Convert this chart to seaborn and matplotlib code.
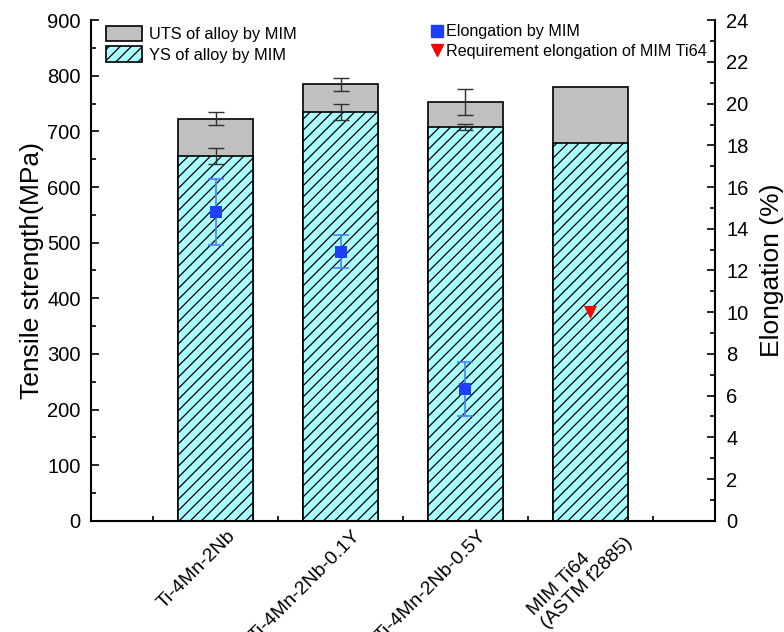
import matplotlib
matplotlib.use("Agg")
import matplotlib.pyplot as plt
import matplotlib.transforms as mtransforms
import numpy as np
import pandas as pd
import seaborn as sns
from matplotlib.patches import Patch
from matplotlib.lines import Line2D
from matplotlib.ticker import MultipleLocator, FixedLocator

# Tensile data of the MIM alloys (MPa)
alloys = ["Ti-4Mn-2Nb", "Ti-4Mn-2Nb-0.1Y", "Ti-4Mn-2Nb-0.5Y", "MIM Ti64\n(ASTM f2885)"]
uts = [723, 785, 753, 780]
uts_err = [12, 12, 24]
ys = [656, 735, 708, 680]
ys_err = [15, 15, 6]

# Elongation (%)
elong = [14.8, 12.9, 6.3]
elong_err = [1.6, 0.8, 1.3]
req_elong = [10]

sns.set_theme(style="ticks")
plt.rcParams["font.family"] = ["Liberation Sans", "DejaVu Sans"]
plt.rcParams.update({
    "hatch.linewidth": 0.9,
    "hatch.color": "black",
    "axes.edgecolor": "black",
    "text.color": "black",
    "axes.labelcolor": "black",
    "xtick.color": "black",
    "ytick.color": "black",
})

GRAY = "#c0c0c0"
CYAN = "#aaffff"
BLUE = "#1f3fff"
BLUE_ERR = "#4d7dff"

fig = plt.figure(figsize=(7.84, 6.32), dpi=100)
ax = fig.add_axes([0.116, 0.176, 0.796, 0.792])

df = pd.DataFrame({"alloy": alloys, "uts": uts, "ys": ys})
sns.barplot(data=df, x="alloy", y="uts", color=GRAY, width=0.6, edgecolor="black",
            linewidth=1.2, saturation=1, ax=ax)
sns.barplot(data=df, x="alloy", y="ys", color=CYAN, width=0.6, edgecolor="black",
            linewidth=1.2, saturation=1, hatch="///", ax=ax)

xi = np.arange(len(uts_err))
ax.errorbar(xi, uts[:3], yerr=uts_err, fmt="none", ecolor="#303030", elinewidth=1.0,
            capsize=5.5, capthick=1.0, zorder=5)
ax.errorbar(xi, ys[:3], yerr=ys_err, fmt="none", ecolor="#303030", elinewidth=1.0,
            capsize=5.5, capthick=1.0, zorder=5)

ax.set_xlim(-1, 4)
ax.set_ylim(0, 900)
ax.yaxis.set_major_locator(MultipleLocator(100))
ax.yaxis.set_minor_locator(MultipleLocator(50))
ax.xaxis.set_minor_locator(FixedLocator([-0.5, 0.5, 1.5, 2.5, 3.5]))
ax.set_xlabel("")
ax.set_ylabel("Tensile strength(MPa)", fontsize=19, labelpad=2)
ax.tick_params(which="both", direction="in", width=1.2, labelsize=14.5, right=False, top=False)
ax.tick_params(axis="y", pad=7.5)
ax.tick_params(which="major", length=6)
ax.tick_params(which="minor", length=3.5)
ax.set_xticks(range(len(alloys)))
ax.set_xticklabels(alloys, rotation=45, ha="right", va="center", rotation_mode="anchor",
                   multialignment="left", fontsize=14)
# shift the slanted category labels (pixels right, pixels down)
shifts = [(17, 8), (17.5, 8), (18.5, 8), (33, 8)]
for lab, (dx, dy) in zip(ax.get_xticklabels(), shifts):
    off = mtransforms.ScaledTranslation(dx / 100, -dy / 100, fig.dpi_scale_trans)
    lab.set_transform(lab.get_transform() + off)
for s in ["left", "bottom"]:
    ax.spines[s].set_linewidth(1.5)
ax.spines["top"].set_visible(False)
ax.spines["right"].set_visible(False)

# Elongation on the secondary axis
ax2 = ax.twinx()
ax2.errorbar(xi, elong, yerr=elong_err, fmt="none", ecolor=BLUE_ERR, elinewidth=1.2,
             capsize=5.5, capthick=1.2, zorder=6)
sns.scatterplot(x=xi, y=elong, marker="s", color=BLUE, s=75, edgecolor=BLUE,
                linewidth=0, ax=ax2, zorder=7)
sns.scatterplot(x=[3], y=req_elong, marker="v", color="red", s=90, edgecolor="red",
                linewidth=0, ax=ax2, zorder=7)
ax2.set_xlim(-1, 4)
ax2.set_ylim(0, 24)
ax2.yaxis.set_major_locator(MultipleLocator(2))
ax2.yaxis.set_minor_locator(MultipleLocator(1))
ax2.set_ylabel("Elongation (%)", fontsize=19, labelpad=8)
ax2.tick_params(which="both", direction="in", width=1.2, labelsize=14.5, pad=8)
ax2.tick_params(which="major", length=6)
ax2.tick_params(which="minor", length=3.5)
ax2.spines["top"].set_visible(False)
ax2.spines["right"].set_linewidth(1.5)
ax2.spines["left"].set_visible(False)
ax2.spines["bottom"].set_visible(False)

h1 = [Patch(facecolor=GRAY, edgecolor="black", linewidth=1.2),
      Patch(facecolor=CYAN, edgecolor="black", linewidth=1.2, hatch="///")]
leg1 = ax2.legend(h1, ["UTS of alloy by MIM", "YS of alloy by MIM"], loc="upper left",
                  bbox_to_anchor=(0.0056, 1.012), frameon=False, fontsize=11.8,
                  handlelength=2.2, handleheight=1.1, labelspacing=0.25, handletextpad=0.4,
                  borderaxespad=0.3)
ax2.add_artist(leg1)
h2 = [Line2D([], [], linestyle="none", marker="s", color=BLUE, markersize=8),
      Line2D([], [], linestyle="none", marker="v", color="red", markersize=9)]
ax2.legend(h2, ["Elongation by MIM", "Requirement elongation of MIM Ti64"], loc="upper left",
           bbox_to_anchor=(0.5256, 1.014), frameon=False, fontsize=11.6, handlelength=0.8,
           labelspacing=0.25, handletextpad=0.15, borderaxespad=0.3)

fig.savefig("out.png", dpi=100)
